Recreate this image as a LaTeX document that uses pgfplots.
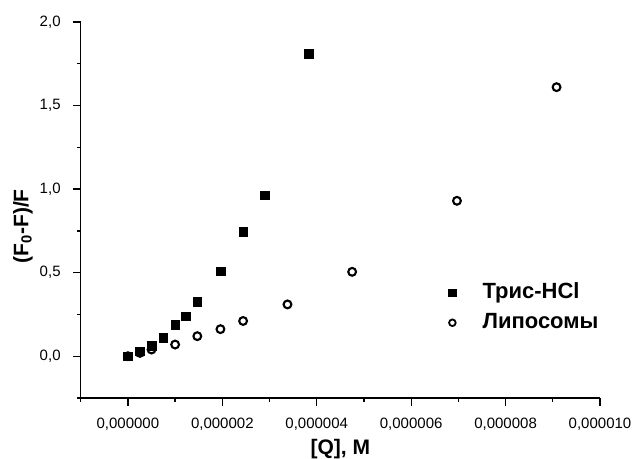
\documentclass[border=0pt]{standalone}
\usepackage{fontspec}
\setmainfont{Liberation Sans}
\usepackage{pgfplots}
\pgfplotsset{compat=1.18}
\begin{document}
\begin{tikzpicture}
\begin{axis}[
  scale only axis,
  width=519.3bp, height=376bp,
  xmin=-1e-6, xmax=10e-6,
  ymin=-0.25, ymax=2.0,
  axis lines*=left,
  axis line style={line width=1.3bp},
  tick align=outside,
  tick style={line width=1.3bp, black},
  major tick length=7.5bp,
  minor tick length=3.5bp,
  xtick={0,2e-6,4e-6,6e-6,8e-6,10e-6},
  xticklabels={{0,000000},{0,000002},{0,000004},{0,000006},{0,000008},{0,000010}},
  minor xtick={-1e-6,1e-6,3e-6,5e-6,7e-6,9e-6},
  ytick={0,0.5,1,1.5,2},
  yticklabels={{0,0},{0,5},{1,0},{1,5},{2,0}},
  minor ytick={-0.25,0.25,0.75,1.25,1.75},
  scaled x ticks=false,
  ticklabel style={font=\fontsize{15bp}{17bp}\selectfont, inner sep=0pt},
  xticklabel style={anchor=north, yshift=-12bp},
  yticklabel style={anchor=east, xshift=-12.4bp},
  xlabel={[Q], M},
  ylabel={(F\textsubscript{0}-F)/F},
  label style={font=\bfseries\fontsize{21bp}{24bp}\selectfont},
  xlabel style={at={(axis description cs:0.5,-0.1356)}, anchor=center},
  ylabel style={at={(axis description cs:-0.111,0.457)}, anchor=center},
  legend style={at={(axis description cs:0.6938,0.240)}, anchor=west,
    draw=none, fill=none, inner sep=0pt, row sep=5bp,
    font=\bfseries\fontsize{22bp}{26bp}\selectfont,
    nodes={inner sep=2bp, text height=16bp, text depth=5bp}},
  legend cell align=left,
  legend image code/.code={\draw[#1] plot coordinates {(11bp,0bp)}; \path (0bp,0bp) (39bp,0bp);},
]
\addlegendimage{only marks, mark=square*, mark size=3.7bp, black}
\addlegendentry{Трис-HCl}
\addlegendimage{only marks, mark=o, mark size=3.3bp, mark options={line width=1.8bp}, black}
\addlegendentry{Липосомы}
\addplot[forget plot, only marks, mark=square*, mark size=4.3bp, black] coordinates {
(0,0.0) (0.25e-6,0.03) (0.50e-6,0.062) (0.75e-6,0.11) (1.0e-6,0.188)
(1.23e-6,0.24) (1.47e-6,0.326) (1.96e-6,0.508) (2.44e-6,0.745)
(2.90e-6,0.964) (3.83e-6,1.81)
};
\addplot[forget plot, only marks, mark=o, mark size=3.9bp, mark options={line width=2.1bp}, black] coordinates {
(0,0.0) (0.254e-6,0.02) (0.50e-6,0.04) (1.0e-6,0.07) (1.47e-6,0.12)
(1.96e-6,0.162) (2.44e-6,0.211) (3.38e-6,0.31) (4.75e-6,0.505)
(6.97e-6,0.93) (9.08e-6,1.61)
};
\end{axis}
\pgfresetboundingbox
\useasboundingbox (-80.7bp,-61bp) rectangle (552.3bp,398bp);
\end{tikzpicture}
\end{document}
